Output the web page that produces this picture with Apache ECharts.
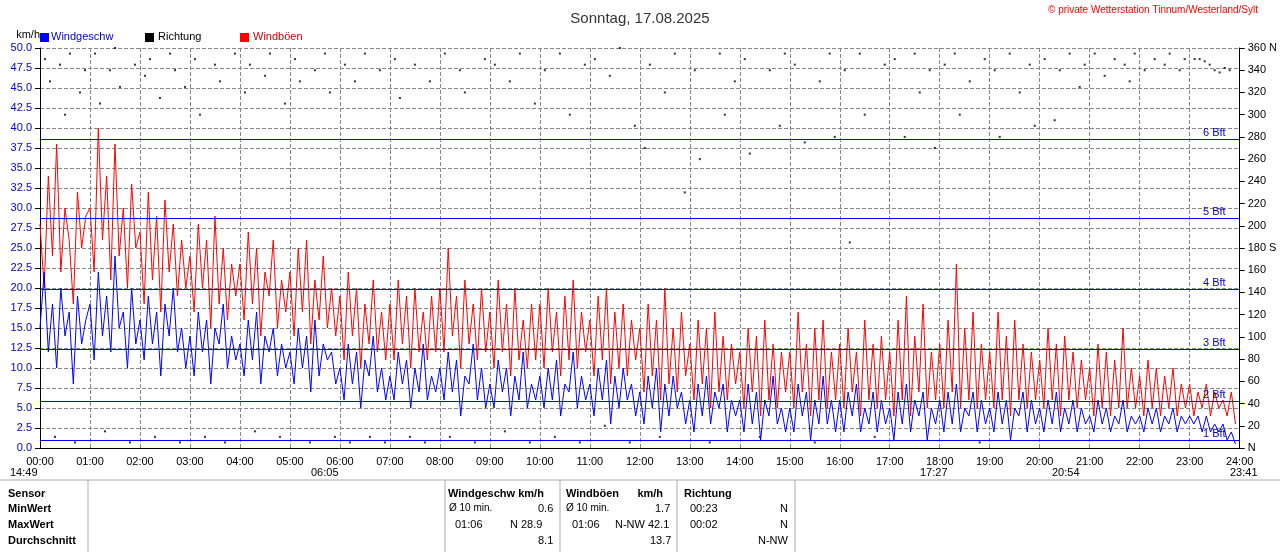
<!DOCTYPE html>
<html><head><meta charset="utf-8">
<script src="https://cdn.jsdelivr.net/npm/echarts@6/dist/echarts.min.js"></script>
<style>body{margin:0;background:#fff}#c{width:1280px;height:552px}</style>
</head><body><div id="c"></div>
<script>
// Windgeschwindigkeit, 5-Minuten-Werte (km/h)
var wind = [
15,22,12,18,10,20,14,17,8,19,13,16,
18,11,22,14,19,12,24,15,17,10,20,13,
16,11,19,13,17,9,18,14,20,12,15,10,
14,9,17,12,16,8,15,13,18,10,14,11,
13,9,16,11,17,8,14,12,15,9,13,10,
12,8,15,10,14,7,16,9,13,11,12,8,
10,6,13,8,12,5,11,9,14,7,10,6,
9,6,12,8,11,5,10,7,13,6,9,7,
10,6,12,7,11,4,9,8,13,6,10,5,
8,5,11,7,10,4,9,6,12,5,8,6,
9,5,10,6,11,4,8,7,12,5,9,6,
8,4,10,6,11,3,9,5,10,6,8,4,
7,3,9,5,10,2,8,4,9,5,7,3,
6,2,8,4,9,3,7,5,8,2,6,4,
6,2,8,3,7,1,6,4,9,3,5,2,
5,2,8,4,7,1,6,3,9,3,6,2,
6,2,7,4,8,2,5,3,7,2,6,3,
5,1,7,3,8,2,6,4,7,1,5,3,
6,2,7,3,8,2,5,4,7,2,6,3,
5,2,7,3,6,1,5,4,7,2,6,3,
5,2,6,3,7,2,5,3,6,2,5,3,
4,2,6,3,5,2,4,3,6,2,4,3,
4,2,5,3,5,2,4,3,5,2,4,3,
4,3,4,2,4,2,3,2,3,1,2,0.5
];
// Windböen (km/h)
var boeen = [
28,20,34,24,38,22,30,26,18,32,25,29,
30,22,40,26,34,21,38,24,30,20,33,25,
27,18,32,21,29,17,31,22,28,19,26,20,
24,17,28,20,26,15,29,18,25,16,23,19,
23,16,27,18,25,14,22,19,26,15,21,17,
22,14,25,17,26,13,21,16,24,15,20,14,
19,11,22,14,20,10,18,13,21,12,17,11,
18,11,21,13,19,10,20,12,17,11,19,12,
20,12,25,14,19,10,21,13,18,11,20,12,
17,10,21,12,18,9,20,11,16,10,18,11,
18,10,20,12,17,9,19,11,21,10,17,12,
16,9,19,11,20,8,17,10,18,9,16,11,
15,7,18,9,16,6,20,8,15,7,17,9,
13,6,16,8,15,5,17,7,14,6,13,8,
12,5,15,7,14,4,16,6,13,5,12,7,
12,5,17,7,13,4,15,6,16,5,12,6,
13,5,15,7,12,4,16,6,13,5,14,6,
12,4,16,6,19,4,14,7,18,5,12,6,
13,5,16,7,23,5,15,6,17,5,13,6,
12,5,17,6,14,4,16,6,13,5,12,6,
11,5,15,6,13,4,14,6,12,5,11,6,
10,4,13,5,12,4,11,5,15,5,10,5,
9,4,11,5,10,4,9,5,10,4,8,5,
8,4,7,5,8,4,7,5,6,4,7,3
];
// Richtung [Stunde, Grad]
var richtung = [
[0.1,350],[0.2,330],[0.3,10],[0.4,345],[0.5,300],[0.6,355],[0.7,5],[0.8,320],[0.9,340],
[1.1,355],[1.2,310],[1.3,15],[1.4,340],[1.5,360],[1.6,325],[1.8,5],[1.9,345],
[2.1,335],[2.2,350],[2.3,10],[2.4,315],[2.6,355],[2.7,340],[2.8,5],[2.9,325],
[3.1,350],[3.2,300],[3.3,10],[3.5,345],[3.6,330],[3.7,5],[3.9,355],
[4.1,320],[4.2,345],[4.3,15],[4.5,335],[4.6,355],[4.8,10],[4.9,310],
[5.1,350],[5.2,330],[5.4,5],[5.5,340],[5.7,355],[5.8,320],[5.9,10],
[6.1,345],[6.2,5],[6.3,330],[6.5,355],[6.6,10],[6.8,340],[6.9,5],
[7.1,350],[7.2,315],[7.4,10],[7.5,345],[7.7,5],[7.8,330],
[8.1,355],[8.2,10],[8.4,340],[8.5,320],[8.7,5],[8.9,350],
[9.1,345],[9.3,15],[9.4,330],[9.6,355],[9.8,5],[9.9,310],
[10.1,340],[10.3,10],[10.4,355],[10.6,300],[10.8,5],[10.9,345],
[11.1,350],[11.3,20],[11.4,335],[11.6,360],[11.8,5],[11.9,290],
[12.1,270],[12.2,345],[12.4,10],[12.5,320],[12.7,355],[12.9,230],
[13.1,340],[13.2,260],[13.4,5],[13.6,355],[13.7,300],[13.9,330],
[14.1,350],[14.2,265],[14.4,10],[14.6,340],[14.8,290],[14.9,355],
[15.1,345],[15.3,275],[15.5,5],[15.6,330],[15.8,355],[15.9,280],
[16.1,340],[16.2,185],[16.4,355],[16.5,300],[16.7,10],[16.9,345],
[17.1,350],[17.3,280],[17.5,355],[17.6,320],[17.8,340],[17.9,270],
[18.1,345],[18.3,355],[18.4,300],[18.6,330],[18.8,5],[18.9,350],
[19.1,340],[19.2,280],[19.4,355],[19.6,320],[19.8,345],[19.9,290],
[20.1,350],[20.3,295],[20.4,340],[20.6,355],[20.8,325],[20.9,345],
[21.1,355],[21.3,335],[21.5,350],[21.7,345],[21.8,330],[21.9,355],
[22.1,340],[22.3,350],[22.5,345],[22.6,355],[22.8,340],[22.9,350],
[23.1,350],[23.2,350],[23.3,348],[23.4,345],[23.5,340],[23.6,338],[23.7,342],[23.8,340]
];
var bft = [[1.0,'1 Bft'],[5.8,'2 Bft'],[12.3,'3 Bft'],[19.8,'4 Bft'],[28.7,'5 Bft'],[38.6,'6 Bft']];

function toPairs(arr) { return arr.map(function(v, i) { return [i * 5 / 60, v]; }); }

var myChart = echarts.init(document.getElementById('c'));
var font = 'Liberation Sans';
var txt = function(x, y, s, opt) {
    return { type: 'text', left: x, top: y, style: Object.assign({ text: s, fontSize: 11, fontFamily: font, fill: '#000' }, opt || {}) };
};
var vline = function(x) {
    return { type: 'line', shape: { x1: x, y1: 480, x2: x, y2: 552 }, style: { stroke: '#aaa', lineWidth: 1 } };
};
var option = {
    animation: false,
    textStyle: { fontFamily: font },
    grid: { left: 40, right: 40, top: 48, bottom: 104 },
    title: { text: 'Sonntag, 17.08.2025', left: 'center', top: 6, textStyle: { fontSize: 15, fontWeight: 'normal', color: '#333', fontFamily: font } },
    xAxis: {
        type: 'value', min: 0, max: 24, interval: 1,
        axisLine: { lineStyle: { color: '#000' } },
        axisTick: { show: false },
        axisLabel: { fontSize: 11, color: '#000', formatter: function(v) { return (v < 10 ? '0' : '') + v + ':00'; } },
        splitLine: { show: true, lineStyle: { type: 'dashed', color: '#888' } }
    },
    yAxis: [{
        type: 'value', min: 0, max: 50, interval: 2.5, name: 'km/h', nameGap: 8,
        nameTextStyle: { color: '#000', fontSize: 11, align: 'right' },
        axisLine: { show: true, lineStyle: { color: '#000' } },
        axisLabel: { fontSize: 11, color: '#0000cc', formatter: function(v) { return v.toFixed(1); } },
        splitLine: { lineStyle: { type: 'dashed', color: '#888' } }
    }, {
        type: 'value', min: 0, max: 360, interval: 20,
        axisLine: { show: true, lineStyle: { color: '#000' } },
        axisLabel: { fontSize: 11, color: '#000', formatter: function(v) { return v === 360 ? '360 N' : v === 180 ? '180 S' : v === 0 ? 'N' : v; } },
        splitLine: { show: false }
    }],
    series: [{
        name: 'Windböen', type: 'line', data: toPairs(boeen), symbol: 'none',
        lineStyle: { color: '#ff0000', width: 1 },
        markLine: {
            silent: true, symbol: 'none',
            lineStyle: { color: '#0000ff', type: 'solid', width: 1 },
            label: { position: 'insideEndTop', color: '#0000cc', fontSize: 11, distance: [14, 1] },
            data: bft.map(function(b) { return { yAxis: b[0], label: { formatter: b[1] } }; })
        }
    }, {
        name: 'Windgeschw', type: 'line', data: toPairs(wind), symbol: 'none',
        lineStyle: { color: '#0000ff', width: 1 }
    }, {
        name: 'Richtung', type: 'scatter', yAxisIndex: 1, data: richtung,
        symbol: 'rect', symbolSize: 2, itemStyle: { color: '#000' }
    }],
    graphic: [
        { type: 'rect', left: 40, top: 33, shape: { width: 9, height: 9 }, style: { fill: '#0000ff' } },
        txt(51, 31, 'Windgeschw', { fill: '#0000cc' }),
        { type: 'rect', left: 145, top: 33, shape: { width: 9, height: 9 }, style: { fill: '#000' } },
        txt(158, 31, 'Richtung'),
        { type: 'rect', left: 240, top: 33, shape: { width: 9, height: 9 }, style: { fill: '#ff0000' } },
        txt(253, 31, 'Windböen', { fill: '#cc0000' }),
        txt(1048, 5, '© private Wetterstation Tinnum/Westerland/Sylt', { fill: '#ff0000', fontSize: 10 }),
        txt(10, 467, '14:49'), txt(311, 467, '06:05'), txt(920, 467, '17:27'),
        txt(1052, 467, '20:54'), txt(1230, 467, '23:41'),
        { type: 'line', shape: { x1: 0, y1: 480, x2: 1280, y2: 480 }, style: { stroke: '#aaa' } },
        vline(88), vline(445), vline(560), vline(677), vline(795),
        txt(8, 488, 'Sensor', { fontWeight: 'bold' }),
        txt(8, 503, 'MinWert', { fontWeight: 'bold' }),
        txt(8, 519, 'MaxWert', { fontWeight: 'bold' }),
        txt(8, 535, 'Durchschnitt', { fontWeight: 'bold' }),
        txt(448, 488, 'Windgeschw km/h', { fontWeight: 'bold' }),
        txt(449, 503, 'Ø 10 min.', { fontSize: 10 }), txt(538, 503, '0.6'),
        txt(455, 519, '01:06'), txt(510, 519, 'N 28.9'),
        txt(538, 535, '8.1'),
        txt(566, 488, 'Windböen      km/h', { fontWeight: 'bold' }),
        txt(566, 503, 'Ø 10 min.', { fontSize: 10 }), txt(655, 503, '1.7'),
        txt(572, 519, '01:06'), txt(615, 519, 'N-NW 42.1'),
        txt(650, 535, '13.7'),
        txt(684, 488, 'Richtung', { fontWeight: 'bold' }),
        txt(690, 503, '00:23'), txt(780, 503, 'N'),
        txt(690, 519, '00:02'), txt(780, 519, 'N'),
        txt(758, 535, 'N-NW')
    ]
};
myChart.setOption(option);
</script>
</body></html>
